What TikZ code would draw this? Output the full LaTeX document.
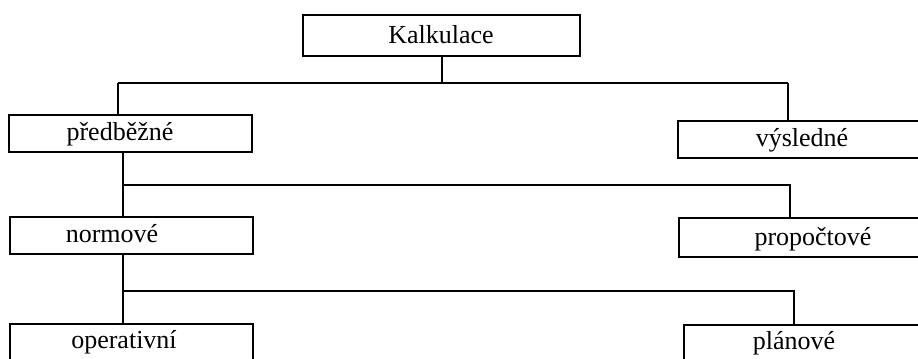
\documentclass[tikz,border=0pt]{standalone}
\usepackage{fontspec}
\setmainfont{Liberation Serif}
\begin{document}
\begin{tikzpicture}[x=0.75pt,y=-0.75pt,
  box/.style={draw=black,line width=1.9pt,fill=white},
  lbl/.style={inner sep=0pt,font=\fontsize{19.5}{22}\selectfont,anchor=base},
  wire/.style={draw=black,line width=1.9pt}]
\clip (0,0) rectangle (918,359);
\fill[white] (0,0) rectangle (918,359);

% connectors
\coordinate (k1) at (442,56);
\coordinate (k2) at (442,83);
\coordinate (pL) at (118,83);
\coordinate (pR) at (788,83);
\coordinate (n1) at (123,152);
\coordinate (n2) at (123,185);
\coordinate (nR) at (790,185);
\coordinate (o1) at (123,254);
\coordinate (o2) at (123,291);
\coordinate (oR) at (794,291);

\draw[wire] (k1) -- (k2);
\draw[wire] (pL) -- (pR);
\draw[wire] (pL) -- (118,115);
\draw[wire] (pR) -- (788,121);
\draw[wire] (n1) -- (123,217);
\draw[wire] (n2) -- (nR) -- (790,218);
\draw[wire] (o1) -- (123,324);
\draw[wire] (o2) -- (oR) -- (794,325);

% boxes
\draw[box] (303,15) rectangle (580,56);
\node[lbl] (kalk) at (441,44) {Kalkulace};

\draw[box] (9,115) rectangle (252,152);
\node[lbl] (pred) at (120,141) {předběžné};

\draw[box] (678,121) rectangle (940,158);
\node[lbl] (vysl) at (802,147) {výsledné};

\draw[box] (10,217) rectangle (253,254);
\node[lbl] (norm) at (112,243) {normové};

\draw[box] (679,218) rectangle (940,257);
\node[lbl] (prop) at (813,246) {propočtové};

\draw[box] (10,324) rectangle (253,380);
\node[lbl] (oper) at (124,349) {operativní};

\draw[box] (684,325) rectangle (940,380);
\node[lbl] (plan) at (794,350) {plánové};
\end{tikzpicture}
\end{document}
